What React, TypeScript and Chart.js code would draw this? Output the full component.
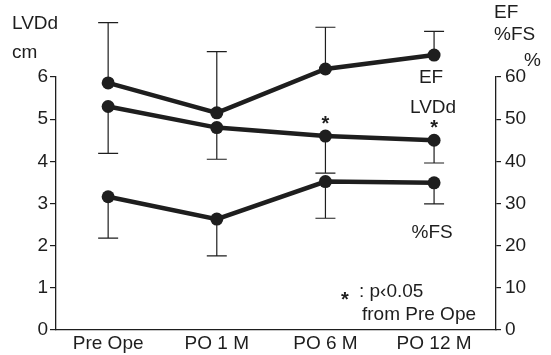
import React, { useEffect, useRef } from "react";
import { Chart, registerables } from "chart.js";
Chart.register(...registerables);

const categories = ["Pre Ope", "PO 1 M", "PO 6 M", "PO 12 M"];
const efValues = [58.6, 51.5, 61.9, 65.2];
const efUpper = [72.9, 66.0, 71.8, 70.8];
const lvddValues = [5.3, 4.8, 4.6, 4.5];
const lvddLower = [4.19, 4.05, 3.72, 3.96];
const fsValues = [31.6, 26.3, 35.2, 34.9];
const fsLower = [21.8, 17.6, 26.5, 29.9];
const significant = [false, false, true, true];
const leftTicks = [0, 1, 2, 3, 4, 5, 6];
const rightTicks = [0, 10, 20, 30, 40, 50, 60];

const INK = "#1e1e1e";
const FONT = "'Liberation Sans', Arial, sans-serif";
const DOT = 6.5;

const errorBars = {
  id: "errorBars",
  beforeDatasetsDraw(chart: any) {
    const { ctx } = chart;
    ctx.save();
    ctx.strokeStyle = INK;
    ctx.lineWidth = 1.2;
    chart.data.datasets.forEach((ds: any, i: number) => {
      const meta = chart.getDatasetMeta(i);
      const ys = chart.scales[ds.yAxisID];
      ds.errTo.forEach((v: number, j: number) => {
        const pt = meta.data[j];
        const y2 = ys.getPixelForValue(v);
        ctx.beginPath();
        ctx.moveTo(pt.x, pt.y);
        ctx.lineTo(pt.x, y2);
        ctx.moveTo(pt.x - 10, y2);
        ctx.lineTo(pt.x + 10, y2);
        ctx.stroke();
      });
    });
    ctx.restore();
  },
  afterDatasetsDraw(chart: any) {
    const { ctx } = chart;
    ctx.save();
    ctx.fillStyle = INK;
    chart.data.datasets.forEach((_ds: any, i: number) => {
      const meta = chart.getDatasetMeta(i);
      meta.data.forEach((pt: any) => {
        ctx.beginPath();
        ctx.arc(pt.x, pt.y, DOT, 0, Math.PI * 2);
        ctx.fill();
      });
    });
    ctx.restore();
  },
};

const annotations = {
  id: "annotations",
  afterDraw(chart: any) {
    const { ctx, chartArea: a } = chart;
    ctx.save();
    ctx.fillStyle = INK;
    ctx.font = `19px ${FONT}`;
    ctx.textBaseline = "middle";
    ctx.textAlign = "left";
    ctx.fillText("LVDd", 12, 24);
    ctx.fillText("cm", 12, 53);
    ctx.fillText("EF", a.right - 2, 13);
    ctx.fillText("%FS", a.right - 2, 35);
    ctx.fillText("%", a.right + 28, 61);

    const efMeta = chart.getDatasetMeta(0);
    const lvMeta = chart.getDatasetMeta(1);
    const fsMeta = chart.getDatasetMeta(2);
    const last = categories.length - 1;
    ctx.textAlign = "center";
    ctx.fillText("EF", efMeta.data[last].x - 3, efMeta.data[last].y + 23);
    ctx.fillText("LVDd", lvMeta.data[last].x - 1, lvMeta.data[last].y - 32);
    ctx.fillText("%FS", fsMeta.data[last].x - 2, fsMeta.data[last].y + 50);

    ctx.font = `bold 20px ${FONT}`;
    significant.forEach((s, j) => {
      if (!s) return;
      const p = lvMeta.data[j];
      ctx.fillText("*", p.x, p.y - 12);
    });
    ctx.textAlign = "left";
    ctx.fillText("*", a.left + 285, a.bottom - 30);
    ctx.font = `19px ${FONT}`;
    ctx.fillText(": p\u20390.05", a.left + 303, a.bottom - 38);
    ctx.fillText("from Pre Ope", a.left + 306, a.bottom - 15);
    ctx.restore();
  },
};

export default function App() {
  const ref = useRef<HTMLCanvasElement>(null);
  useEffect(() => {
    if (!ref.current) return;
    const line = (label: string, data: number[], axis: string, err: number[]) => ({
      label,
      data: data.map((v, i) => ({ x: i, y: v })),
      yAxisID: axis,
      errTo: err,
      borderColor: INK,
      backgroundColor: INK,
      borderWidth: 4.5,
      pointRadius: 0,
      pointHoverRadius: 0,
      clip: false,
      tension: 0,
    });
    const chart = new Chart(ref.current, {
      type: "line",
      data: {
        datasets: [
          line("EF", efValues, "yR", efUpper),
          line("LVDd", lvddValues, "yL", lvddLower),
          line("%FS", fsValues, "yR", fsLower),
        ] as any,
      },
      options: {
        animation: false,
        responsive: false,
        layout: { padding: { top: 77, left: 0, right: 0, bottom: 0 } },
        plugins: { legend: { display: false }, tooltip: { enabled: false } },
        scales: {
          x: {
            type: "linear",
            min: -0.48,
            max: 3.57,
            afterBuildTicks: (s: any) => {
              s.ticks = categories.map((_, i) => ({ value: i }));
            },
            afterFit: (s: any) => {
              s.height = 25;
            },
            grid: { display: false, drawTicks: false },
            border: { display: true, color: INK, width: 1.3 },
            ticks: {
              padding: 2,
              color: INK,
              font: { family: FONT, size: 19 },
              callback: (v: any) => categories[v] ?? "",
            },
          },
          yL: {
            type: "linear",
            position: "left",
            min: 0,
            max: 6,
            afterBuildTicks: (s: any) => {
              s.ticks = leftTicks.map((v) => ({ value: v }));
            },
            afterFit: (s: any) => {
              s.width = 56;
            },
            grid: { drawOnChartArea: false, color: INK, tickLength: 6, lineWidth: 1.2 },
            border: { display: true, color: INK, width: 1.3 },
            ticks: { padding: 2, color: INK, font: { family: FONT, size: 19 } },
          },
          yR: {
            type: "linear",
            position: "right",
            min: 0,
            max: 60,
            afterBuildTicks: (s: any) => {
              s.ticks = rightTicks.map((v) => ({ value: v }));
            },
            afterFit: (s: any) => {
              s.width = 55;
            },
            grid: { drawOnChartArea: false, color: INK, tickLength: 5, lineWidth: 1.2 },
            border: { display: true, color: INK, width: 1.3 },
            ticks: { padding: 4, color: INK, font: { family: FONT, size: 19 } },
          },
        },
      } as any,
      plugins: [errorBars, annotations],
    });
    return () => chart.destroy();
  }, []);
  return (
    <div style={{ position: "absolute", left: 0, top: 0, width: 551, height: 355, background: "#fff" }}>
      <canvas ref={ref} width={551} height={355} />
    </div>
  );
}
